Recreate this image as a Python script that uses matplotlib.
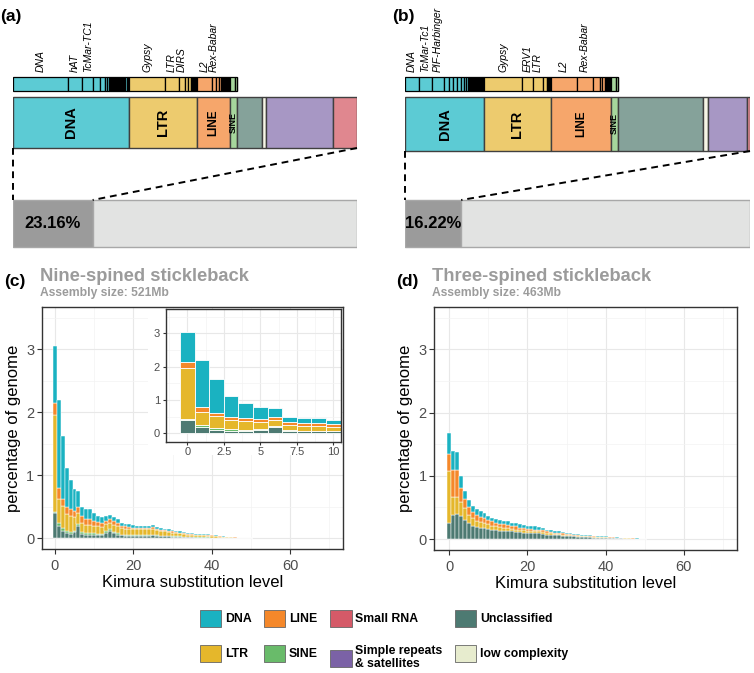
import numpy as np
import matplotlib
matplotlib.use("Agg")
import matplotlib.pyplot as plt
from matplotlib.patches import Patch, Rectangle
from matplotlib.ticker import MultipleLocator

plt.rcParams["font.family"] = ["Liberation Sans", "DejaVu Sans"]

# ---- repeat class shares (% of repeat content), top bars ----
classes = ["DNA", "LTR", "LINE", "SINE", "Unclassified", "low complexity",
           "Simple repeats", "Small RNA"]
share_nine = [33.6, 19.8, 9.7, 2.1, 7.2, 1.2, 19.5, 6.9]
share_three = [22.8, 19.4, 17.4, 2.2, 24.5, 1.4, 11.4, 0.9]
pct_nine = 23.16
pct_three = 16.22

# ---- subfamily shares (same units) ----
dna_fam_nine = [16.1, 4.0, 3.3, 1.9, 1.5, 0.6, 0.5, 0.3, 0.3, 0.3, 0.3, 0.3,
                0.3, 0.3, 0.3, 0.3, 0.3, 0.3, 0.3, 0.3, 0.3, 0.3, 0.3, 0.3,
                0.3, 0.3]
dna_names_nine = ["DNA", "hAT", "TcMar-TC1"]
ltr_fam_nine = [10.7, 3.9, 1.9, 0.8, 0.7, 0.3, 0.3, 0.3, 0.3, 0.3, 0.3]
ltr_names_nine = ["Gypsy", "LTR", "DIRS"]
line_fam_nine = [4.4, 1.3, 0.7, 0.7, 0.3, 0.3, 0.3, 0.3, 0.3, 0.3, 0.3, 0.3,
                 0.2]
line_names_nine = ["L2", "Rex-Babar"]
sine_fam_nine = [1.5, 0.4, 0.2]

dna_fam_three = [3.9, 3.9, 3.4, 1.5, 1.2, 1.2, 1.0, 0.8, 0.7, 0.5, 0.3, 0.3,
                 0.3, 0.3, 0.3, 0.3, 0.3, 0.3, 0.3, 0.3, 0.3, 0.3, 0.3, 0.3,
                 0.3, 0.2]
dna_names_three = ["DNA", "TcMar-Tc1", "PIF-Harbinger"]
ltr_fam_three = [11.1, 3.2, 2.9, 1.0, 0.3, 0.3, 0.3, 0.3]
ltr_names_three = ["Gypsy", "ERV1", "LTR"]
line_fam_three = [7.5, 4.8, 1.9, 0.8, 0.7, 0.3, 0.3, 0.3, 0.3, 0.3, 0.2]
line_names_three = ["L2", "Rex-Babar"]
sine_fam_three = [1.6, 0.4, 0.2]

# ---- repeat landscapes, % genome per Kimura bin (0..50) ----
c_uncl = [0.40, 0.20, 0.11, 0.08, 0.07, 0.10, 0.20, 0.07, 0.06, 0.06,
          0.06, 0.05, 0.05, 0.09, 0.12, 0.08, 0.06, 0.05, 0.04, 0.04,
          0.04, 0.04, 0.04, 0.04, 0.04, 0.05, 0.04, 0.03, 0.03, 0.03,
          0.02, 0.02, 0.02, 0.02, 0.015, 0.015, 0.01, 0.01, 0.01, 0.01,
          0.008, 0.007, 0.006, 0.005, 0.004, 0.003, 0.003, 0.002, 0.002,
          0.001, 0.001]
c_sine = [0.02, 0.05, 0.05, 0.04, 0.03, 0.02, 0.02, 0.03, 0.02, 0.02,
          0.02, 0.02, 0.02, 0.02, 0.02, 0.02, 0.02, 0.01, 0.01, 0.01,
          0.01, 0.01, 0.01, 0.01, 0.01, 0.01, 0.01, 0.01, 0.01, 0.01,
          0.01, 0.01, 0.01, 0.005, 0.005, 0.005, 0.005, 0.005, 0.005, 0.004,
          0.004, 0.003, 0.003, 0.002, 0.002, 0.002, 0.001, 0.001, 0.001,
          0.001, 0.0]
c_ltr = [1.53, 0.38, 0.36, 0.27, 0.26, 0.22, 0.18, 0.15, 0.13, 0.13,
         0.12, 0.12, 0.11, 0.11, 0.11, 0.11, 0.11, 0.10, 0.10, 0.09,
         0.09, 0.09, 0.09, 0.09, 0.09, 0.09, 0.08, 0.07, 0.07, 0.06,
         0.06, 0.05, 0.05, 0.045, 0.04, 0.04, 0.035, 0.035, 0.03, 0.03,
         0.028, 0.022, 0.018, 0.014, 0.011, 0.009, 0.007, 0.005, 0.004,
         0.003, 0.002]
c_line = [0.20, 0.17, 0.10, 0.11, 0.10, 0.10, 0.10, 0.10, 0.09, 0.10,
          0.08, 0.07, 0.06, 0.06, 0.06, 0.06, 0.05, 0.04, 0.04, 0.04,
          0.03, 0.03, 0.03, 0.03, 0.03, 0.03, 0.02, 0.02, 0.02, 0.02,
          0.02, 0.02, 0.01, 0.01, 0.01, 0.01, 0.01, 0.01, 0.01, 0.008,
          0.007, 0.006, 0.005, 0.004, 0.003, 0.002, 0.002, 0.001, 0.001,
          0.001, 0.001]
c_dna = [0.90, 1.40, 1.00, 0.62, 0.46, 0.34, 0.25, 0.15, 0.17, 0.15,
         0.12, 0.10, 0.09, 0.07, 0.06, 0.06, 0.06, 0.05, 0.04, 0.04,
         0.04, 0.03, 0.03, 0.03, 0.03, 0.03, 0.03, 0.03, 0.02, 0.02,
         0.02, 0.02, 0.02, 0.02, 0.02, 0.015, 0.015, 0.015, 0.015, 0.012,
         0.01, 0.008, 0.006, 0.005, 0.004, 0.003, 0.002, 0.002, 0.001,
         0.001, 0.001]

d_uncl = [0.25, 0.38, 0.40, 0.36, 0.30, 0.25, 0.21, 0.19, 0.18, 0.17,
          0.16, 0.15, 0.14, 0.13, 0.13, 0.12, 0.12, 0.11, 0.11, 0.10,
          0.10, 0.10, 0.09, 0.09, 0.08, 0.07, 0.07, 0.06, 0.06, 0.05,
          0.05, 0.045, 0.04, 0.035, 0.03, 0.03, 0.025, 0.022, 0.02, 0.018,
          0.016, 0.014, 0.012, 0.01, 0.008, 0.006, 0.005, 0.004, 0.003,
          0.002, 0.002]
d_ltr = [0.83, 0.29, 0.27, 0.23, 0.19, 0.13, 0.12, 0.10, 0.09, 0.08,
         0.07, 0.06, 0.06, 0.06, 0.05, 0.05, 0.04, 0.04, 0.03, 0.04,
         0.03, 0.03, 0.03, 0.03, 0.03, 0.03, 0.02, 0.02, 0.02, 0.02,
         0.015, 0.015, 0.015, 0.015, 0.015, 0.01, 0.012, 0.012, 0.01, 0.01,
         0.01, 0.009, 0.008, 0.006, 0.005, 0.004, 0.003, 0.002, 0.002,
         0.002, 0.001]
d_line = [0.26, 0.42, 0.42, 0.21, 0.15, 0.13, 0.10, 0.09, 0.08, 0.08,
          0.07, 0.07, 0.06, 0.05, 0.05, 0.05, 0.05, 0.05, 0.04, 0.03,
          0.03, 0.03, 0.03, 0.03, 0.03, 0.02, 0.02, 0.02, 0.01, 0.02,
          0.015, 0.015, 0.015, 0.01, 0.01, 0.01, 0.008, 0.008, 0.008, 0.007,
          0.006, 0.005, 0.004, 0.004, 0.003, 0.003, 0.002, 0.002, 0.001,
          0.001, 0.001]
d_dna = [0.34, 0.31, 0.28, 0.19, 0.12, 0.11, 0.09, 0.09, 0.10, 0.08,
         0.07, 0.06, 0.06, 0.06, 0.06, 0.06, 0.05, 0.05, 0.05, 0.05,
         0.05, 0.04, 0.05, 0.04, 0.03, 0.03, 0.03, 0.03, 0.03, 0.02,
         0.02, 0.015, 0.015, 0.02, 0.015, 0.015, 0.015, 0.013, 0.012, 0.01,
         0.01, 0.009, 0.008, 0.006, 0.005, 0.003, 0.003, 0.002, 0.002,
         0.001, 0.001]

# colours
col = {"DNA": "#1ab2c1", "LTR": "#e5b72b", "LINE": "#f5882a",
       "SINE": "#69bb6a", "Unclassified": "#4d7a72", "Small RNA": "#d55a68",
       "Simple repeats": "#7b62a6", "low complexity": "#e7ecce"}
pale = {"DNA": "#5ccbd4", "LTR": "#edcb6e", "LINE": "#f6a66b",
        "SINE": "#a6d69c", "Unclassified": "#85a29a",
        "low complexity": "#f6f6e6", "Simple repeats": "#a797c4",
        "Small RNA": "#e0878f"}
GRAY_TXT = "#9b9b9b"

W, H = 754, 673
fig = plt.figure(figsize=(W / 100, H / 100), dpi=100)


def fx(px):
    return px / W


def fy(py):
    return 1 - py / H


def composition(x0, x1, shares, fams, pct, main_rows, letter):
    ax = fig.add_axes([fx(x0), fy(250), fx(x1 - x0), 250 / H])
    ax.set_xlim(0, 100)
    ax.set_ylim(250, 0)
    ax.axis("off")
    # subfamily bar
    sub_top, sub_bot = 77, 91
    start = 0
    for key, (vals, names) in fams.items():
        vals = np.array(vals)
        lefts = start + np.concatenate([[0], np.cumsum(vals)[:-1]])
        ax.barh((sub_top + sub_bot) / 2, vals, left=lefts,
                height=sub_bot - sub_top, color=pale[key],
                edgecolor="black", linewidth=0.9)
        for nm, l, v in zip(names, lefts, vals):
            ax.text(l + v / 2, sub_top - 5, nm, rotation=90, ha="center",
                    va="bottom", fontsize=7.5, style="italic")
        start += vals.sum()
    # main composition bar
    top, bot = main_rows
    s = np.array(shares)
    lefts = np.concatenate([[0], np.cumsum(s)[:-1]])
    ax.barh((top + bot) / 2, s, left=lefts, height=bot - top,
            color=[pale[c] for c in classes], edgecolor="#404040",
            linewidth=1.0)
    sizes = {"DNA": 10.5, "LTR": 10.5, "LINE": 8.5, "SINE": 6.5}
    for c, l, v in zip(classes, lefts, s):
        if c in sizes:
            ax.text(l + v / 2, (top + bot) / 2, c, rotation=90,
                    ha="center", va="center", fontsize=sizes[c],
                    fontweight="bold")
    # genome fraction bar
    gt, gb = 200, 247
    ax.barh((gt + gb) / 2, pct, left=0, height=gb - gt, color="#9b9b9b",
            edgecolor="#a8a8a8", linewidth=1)
    ax.barh((gt + gb) / 2, 100 - pct, left=pct, height=gb - gt,
            color="#e2e3e2", edgecolor="#a8a8a8", linewidth=1)
    ax.text(pct / 2, (gt + gb) / 2, "%.2f%%" % pct, ha="center",
            va="center", fontsize=12, fontweight="bold")
    ax.plot([0, 0], [bot, gt], ls=(0, (3.5, 2.5)), color="black", lw=1.4,
            clip_on=False)
    ax.plot([100, pct], [bot, gt], ls=(0, (3.5, 2.5)), color="black",
            lw=1.4, clip_on=False)
    fig.text(fx(x0 - 13), fy(21), letter, fontsize=12.5, fontweight="bold",
             va="baseline")


composition(13, 357, share_nine,
            {"DNA": (dna_fam_nine, dna_names_nine),
             "LTR": (ltr_fam_nine, ltr_names_nine),
             "LINE": (line_fam_nine, line_names_nine),
             "SINE": (sine_fam_nine, [])},
            pct_nine, (97, 148), "(a)")
composition(405.3, 750, share_three,
            {"DNA": (dna_fam_three, dna_names_three),
             "LTR": (ltr_fam_three, ltr_names_three),
             "LINE": (line_fam_three, line_names_three),
             "SINE": (sine_fam_three, [])},
            pct_three, (97, 151), "(b)")


def style(ax, major_x, minor_x, fs, ticklen):
    for sp in ax.spines.values():
        sp.set_color("#333333")
        sp.set_linewidth(1.0)
    ax.xaxis.set_major_locator(MultipleLocator(major_x))
    ax.xaxis.set_minor_locator(MultipleLocator(minor_x))
    ax.yaxis.set_major_locator(MultipleLocator(1))
    ax.yaxis.set_minor_locator(MultipleLocator(0.5))
    ax.set_axisbelow(True)
    ax.grid(which="major", color="#e8e8e8", lw=0.8)
    ax.grid(which="minor", color="#f3f3f3", lw=0.5)
    ax.tick_params(which="major", length=ticklen, width=0.8,
                   color="#333333", labelcolor="#4d4d4d", labelsize=fs,
                   pad=2)
    ax.tick_params(which="minor", length=0)


def landscape(ax, layers, lw):
    x = np.arange(len(layers[0][1]))
    bottom = np.zeros(len(x))
    for name, vals in layers:
        vals = np.array(vals)
        ax.bar(x, vals, width=1, bottom=bottom, color=col[name],
               edgecolor="white", linewidth=lw)
        bottom += vals


layers_c = [("Unclassified", c_uncl), ("SINE", c_sine), ("LTR", c_ltr),
            ("LINE", c_line), ("DNA", c_dna)]
layers_d = [("Unclassified", d_uncl), ("LTR", d_ltr), ("LINE", d_line),
            ("DNA", d_dna)]

panels = [
    (42, 343, 307, 549, layers_c, (-3.3, 73.5), (-0.17, 3.67),
     "Nine-spined stickleback", "Assembly size: 521Mb", "(c)"),
    (434.3, 737, 306.7, 550, layers_d, (-3.84, 73.6), (-0.174, 3.676),
     "Three-spined stickleback", "Assembly size: 463Mb", "(d)"),
]
for x0, x1, y0, y1, layers, xl, yl, title, sub, letter in panels:
    ax = fig.add_axes([fx(x0), fy(y1), fx(x1 - x0), (y1 - y0) / H])
    landscape(ax, layers, 0.35)
    ax.set_xlim(*xl)
    ax.set_ylim(*yl)
    style(ax, 20, 10, 10.5, 3.5)
    ax.tick_params(axis="x", pad=4)
    ax.set_xlabel("Kimura substitution level", fontsize=12, labelpad=1)
    ax.set_ylabel("percentage of genome", fontsize=12, labelpad=4)
    fig.text(fx(x0 - 2), fy(281), title, fontsize=13.2, fontweight="bold",
             color=GRAY_TXT, va="baseline")
    fig.text(fx(x0 - 2), fy(296), sub, fontsize=8.7, fontweight="bold",
             color=GRAY_TXT, va="baseline")
    fig.text(fx(x0 - 38), fy(286), letter, fontsize=12.5,
             fontweight="bold", va="baseline")

# inset: first ten bins of nine-spined landscape
fig.add_artist(Rectangle((fx(148), fy(455)), fx(341 - 148), (455 - 309) / H,
                         transform=fig.transFigure, facecolor="white",
                         edgecolor="none", zorder=0.5))
axi = fig.add_axes([fx(165.7), fy(441.7), fx(340.7 - 165.7),
                    (441.7 - 309.3) / H], zorder=1)
landscape(axi, layers_c, 0.6)
axi.set_xlim(-1.48, 10.5)
axi.set_ylim(-0.25, 3.72)
style(axi, 2.5, 1.25, 8, 2)
axi.set_xticks([0, 2.5, 5, 7.5, 10])
axi.set_xticklabels(["0", "2.5", "5", "7.5", "10"])

# legend
handles = [Patch(facecolor=col[k], edgecolor="#666666", linewidth=0.6)
           for k in ["DNA", "LTR", "LINE", "SINE", "Small RNA",
                     "Simple repeats", "Unclassified", "low complexity"]]
labels = ["DNA", "LTR", "LINE", "SINE", "Small RNA",
          "Simple repeats\n& satellites", "Unclassified", "low complexity"]
fig.legend(handles, labels, ncol=4, loc="upper left",
           bbox_to_anchor=(fx(200), fy(610)), frameon=False,
           prop={"weight": "bold", "size": 8.8},
           handlelength=1.75, handleheight=1.75, handletextpad=0.3,
           columnspacing=1.0, labelspacing=1.45, borderpad=0,
           borderaxespad=0)

fig.savefig("out.png", dpi=100)
